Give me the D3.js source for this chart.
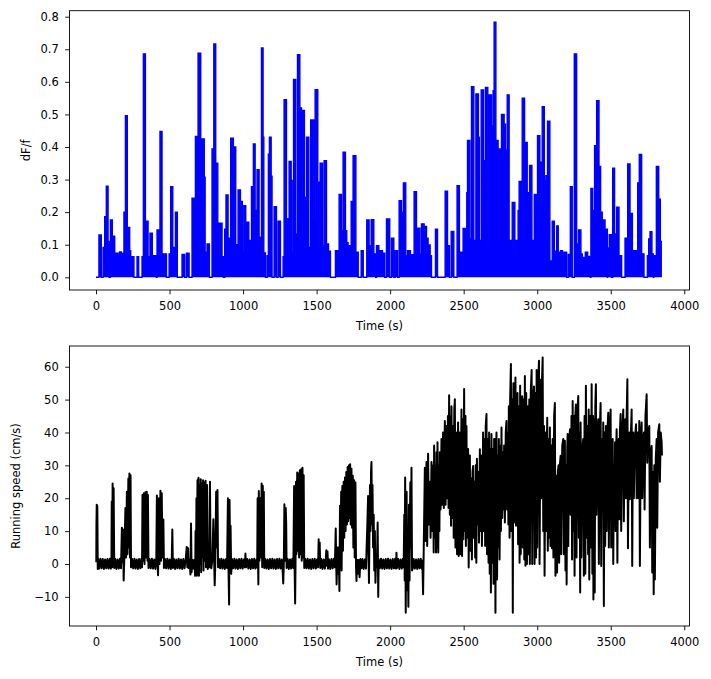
<!DOCTYPE html>
<html><head><meta charset="utf-8">
<script src="https://cdn.jsdelivr.net/npm/d3@7"></script>
<style>body{margin:0;background:#fff} svg{display:block} text{font-family:"DejaVu Sans",sans-serif}</style>
</head><body><svg id="c" width="711" height="679"></svg>
<script>
// dF/f trace: [start time (s), value] held until next start (step)
const dffSteps = [[0,0],[20,0.13],[36,0],[48,0.092],[59,0.186],[70,0.28],[82,0.11],[89,0],[98,0.176],[111,0.126],[127,0.074],[150,0.07],[160,0.078],[172,0.074],[190,0.2],[200,0.496],[213,0.153],[229,0.082],[236,0.063],[258,0],[279,0.063],[290,0],[313,0.063],[322,0.686],[336,0.172],[354,0.063],[367,0.135],[383,0.066],[410,0],[415,0.145],[429,0.07],[435,0.448],[449,0.066],[458,0.072],[479,0],[497,0.072],[508,0.278],[522,0.092],[540,0.2],[553,0],[585,0.07],[603,0],[615,0.074],[633,0],[653,0.243],[676,0.432],[694,0.688],[712,0.077],[721,0.425],[736,0.307],[742,0.077],[755,0.102],[771,0],[789,0.394],[801,0.716],[814,0.35],[828,0.166],[857,0.063],[866,0],[875,0.148],[884,0.253],[898,0.12],[916,0.427],[934,0.4],[950,0.1],[966,0.268],[982,0.233],[995,0.077],[1005,0.22],[1018,0.169],[1039,0.113],[1057,0.278],[1070,0.409],[1082,0.205],[1095,0.33],[1109,0.123],[1125,0.704],[1136,0.43],[1141,0.075],[1152,0],[1163,0.066],[1172,0.378],[1179,0.43],[1191,0.31],[1197,0],[1211,0.217],[1227,0],[1238,0.172],[1254,0],[1272,0.063],[1279,0.545],[1295,0.18],[1313,0.356],[1327,0.297],[1333,0.077],[1343,0.607],[1358,0.133],[1370,0.683],[1386,0.52],[1397,0.512],[1417,0.245],[1431,0.43],[1447,0.092],[1460,0.483],[1481,0.174],[1490,0.576],[1508,0.092],[1517,0.292],[1524,0.35],[1540,0.097],[1551,0.358],[1567,0.102],[1581,0.08],[1594,0],[1628,0.082],[1653,0.254],[1669,0.143],[1680,0.384],[1696,0.143],[1705,0.106],[1714,0.097],[1735,0.233],[1748,0.373],[1767,0.077],[1783,0],[1803,0.082],[1817,0],[1841,0.176],[1857,0.097],[1871,0.177],[1889,0.072],[1902,0],[1907,0.097],[1923,0.082],[1948,0.074],[1963,0],[1975,0.179],[1997,0],[2009,0.12],[2025,0],[2034,0.082],[2050,0],[2061,0.235],[2077,0.2],[2090,0.29],[2106,0.066],[2118,0.082],[2138,0.069],[2163,0.263],[2179,0.151],[2202,0.072],[2213,0.164],[2231,0.156],[2247,0.12],[2258,0.099],[2272,0.066],[2281,0],[2308,0.148],[2322,0],[2374,0.264],[2390,0.097],[2403,0],[2415,0.141],[2433,0],[2455,0.281],[2471,0.077],[2496,0.15],[2512,0.082],[2521,0.26],[2526,0.42],[2542,0.118],[2553,0.585],[2569,0.113],[2583,0.563],[2600,0.43],[2606,0.113],[2619,0.575],[2635,0.358],[2648,0.583],[2664,0.102],[2673,0.56],[2689,0.465],[2700,0.573],[2707,0.783],[2719,0.42],[2734,0.113],[2741,0.394],[2757,0.5],[2775,0.47],[2784,0.39],[2796,0.56],[2809,0.113],[2825,0.082],[2830,0.23],[2848,0.066],[2857,0.113],[2870,0.205],[2877,0.294],[2893,0.113],[2898,0.55],[2914,0.414],[2932,0.087],[2941,0.26],[2948,0.343],[2964,0.113],[2980,0.254],[2996,0.205],[3002,0.435],[3018,0.353],[3025,0.22],[3034,0.524],[3048,0.297],[3055,0.107],[3059,0.312],[3070,0.479],[3086,0.05],[3102,0.172],[3116,0.08],[3132,0.158],[3143,0.077],[3159,0.082],[3172,0.072],[3182,0.077],[3200,0],[3211,0.07],[3225,0.278],[3238,0],[3252,0.686],[3268,0.102],[3281,0.145],[3297,0.072],[3306,0.061],[3327,0.077],[3343,0.064],[3361,0],[3365,0.273],[3377,0.205],[3390,0.404],[3404,0.542],[3420,0.34],[3431,0.2],[3442,0.176],[3461,0.148],[3477,0],[3479,0.09],[3490,0.131],[3504,0],[3513,0.335],[3526,0.133],[3540,0.215],[3556,0.066],[3574,0],[3597,0.12],[3615,0.348],[3631,0.196],[3647,0.082],[3683,0.29],[3694,0.377],[3710,0.072],[3726,0],[3749,0.066],[3758,0.118],[3767,0.14],[3780,0.072],[3790,0],[3792,0.066],[3810,0.34],[3826,0.24],[3837,0.11],[3848,0.11]];

// Running speed trace: [time (s), cm/s]
const speedSamples = [[2,0.5],[3,12],[5,18],[9,17.5],[12,-1.5],[15,1.5],[22,-1.4],[30,1.6],[38,-1.3],[46,1.5],[54,-1.5],[62,1.4],[70,-1.3],[78,1.5],[86,-1.4],[94,1.6],[101,-1.4],
[105,1],[107,19],[110,-1],[113,24.5],[117,2],[120,23],[124,-1.2],[131,1.5],[139,-1.5],[147,1.4],[155,-1.4],[163,1.6],[170,-1.3],
[176,11],[180,0.5],[184,10.5],[188,-5],[192,1],[200,17],[204,2],[210,22],[214,3],[220,26],[223,5],[227,27.5],[231,2],[235,27],[238,-1],[245,1.5],[253,-1.3],[261,1.6],[269,-1.4],[277,1.4],[285,-1.5],[293,1.5],[301,-1.3],[309,1.6],[313,-1],
[316,21],[320,1],[325,21.5],[330,0],[336,21.8],[340,2],[345,22],[350,1],[353,21],[357,-1.2],[364,1.5],[372,-1.3],[380,1.6],[388,-1.4],[396,1.4],[404,-1.5],[410,1.2],
[414,20.8],[418,1],[422,-3.4],[428,20],[432,0],[438,22.3],[442,1],[447,21.5],[452,2],[458,13.5],[462,-1.2],[469,1.5],[477,-1.3],[485,1.6],[493,-1.4],[501,1.4],[509,-1.5],[515,1.2],
[519,10.5],[523,-1.2],[530,1.5],[538,-1.5],[546,1.4],[554,-1.3],[562,1.6],[570,-1.4],[578,1.4],[586,-1.5],[594,1.5],[602,-1.3],[610,1.5],
[617,5.2],[621,-1],[626,4.8],[630,-1.2],[637,1.3],[642,-3.2],[646,12.3],[650,-2.5],[655,1.3],[662,-1.4],[668,1.2],
[674,-3.6],[677,10],[680,-2],[683,20],[686,-3.6],[690,25.5],[693,-1],[697,26.2],[700,-3.6],[704,24],[707,0],[712,25.8],[715,-2.5],[720,24.5],[723,2],[728,25.5],[731,-2],[736,24.8],[739,1],[745,25.3],[748,-1],[755,24],[760,-1.5],[766,1.3],[771,-1],[775,25],[779,0],[784,-1.3],[791,1.2],[798,13.6],[803,2],[807,-6.5],[811,0],[817,22],[821,5],[826,22.5],[830,-1],[836,1.5],[844,-1.3],[852,1.6],[860,-1.4],[868,1.4],[876,-1.5],[884,1.5],[891,-1.2],
[897,20],[901,-2],[905,-12.3],[908,19.5],[912,2],[915,11.6],[919,-3],[925,1.5],[933,-1.3],[941,1.6],[949,-1.4],[957,1.4],[965,-1.5],[973,1.5],[981,-1.3],[989,1.6],[997,-1.4],[1005,1.4],[1012,-1],[1016,3.2],[1020,-1],[1028,1.5],[1036,-1.4],[1044,1.4],[1052,-1.5],[1060,1.5],[1068,-1.3],[1076,1.6],[1084,-1.4],[1092,1.4],[1096,-1],
[1099,20],[1102,0],[1104,-6.2],[1107,22.2],[1111,1],[1118,20],[1122,2],[1126,24.5],[1130,-1],[1134,23.8],[1138,2],[1141,22],[1144,-1.2],[1151,1.5],[1159,-1.4],[1167,1.4],[1175,-1.5],[1183,1.5],[1191,-1.3],[1199,1.6],[1207,-1.4],[1215,1.4],[1223,-1.5],[1231,1.5],[1239,-1.3],[1247,1.6],[1255,-1.4],[1263,1.4],[1268,-1],[1273,-5.9],[1277,0],[1281,18.2],[1285,1],[1290,17],[1293,12.6],[1296,-1.2],[1303,1.5],[1311,-1.5],[1319,1.4],[1327,-1.4],[1335,1.6],[1342,-1.2],
[1347,23.7],[1350,0],[1354,-12],[1357,2],[1360,25],[1363,3],[1368,27.8],[1372,4],[1377,27.5],[1381,2],[1386,28.5],[1390,3],[1395,28.8],[1399,1],[1404,29.3],[1408,2],[1412,27],[1416,-1.2],[1423,1.5],[1431,-1.3],[1439,1.6],[1447,-1.4],[1455,1.4],[1463,-1.5],[1471,1.5],[1479,-1.3],[1487,1.6],[1495,-1.4],[1503,1.4],[1510,-1],[1514,7.5],[1518,0],[1521,6.5],[1525,-1.2],[1532,1.5],[1540,-1.5],[1548,1.4],[1556,-1.4],[1562,1],[1566,4.2],[1570,-0.5],[1574,3.8],[1578,-1.4],[1585,1.4],[1593,-1.5],[1601,1.5],[1609,-1.3],[1617,1.6],[1624,-1],
[1630,10.8],[1633,1],[1636,-6.2],[1640,5],[1645,-3],[1650,5],[1655,-8.2],[1659,17.7],[1662,0],[1667,22],[1670,-2],[1675,23.7],[1679,4],[1684,25],[1688,8],[1693,26.3],[1697,10],[1702,28],[1706,12],[1711,29.5],[1715,13],[1720,30],[1724,14],[1728,30.3],[1732,12],[1737,29],[1741,11],[1746,26.8],[1750,5],[1755,25.5],[1759,2],[1764,24.8],[1768,-1],[1771,-5.2],[1775,1.3],[1782,-3],[1786,1.2],[1792,-4],[1798,1.5],[1805,-1.3],[1812,1.5],[1820,-1.5],[1828,1.4],[1836,-1.4],[1840,5],[1845,12],[1850,20.7],[1853,3],[1856,-5.8],[1859,8],[1863,24],[1866,10],[1870,28],[1873,31],[1877,12],[1880,24],[1884,5],[1888,15],[1892,-2],[1896,10],[1900,-5.7],[1904,1],[1910,-1],[1915,12.6],[1919,-10],[1922,1.5],[1930,-1.3],[1938,1.6],[1946,-1.4],[1954,1.4],[1962,-1.5],[1970,1.5],[1978,-1.3],[1986,1.6],[1994,-1.4],[2002,1.4],[2010,-1.5],[2018,1.5],[2026,-1.3],[2034,1.6],[2040,-1.4],[2043,3.4],[2047,-1.2],[2055,1.5],[2063,-1.5],[2071,1.4],[2079,-1.4],[2087,1.6],[2092,-1],
[2096,15],[2099,-5],[2102,26.3],[2106,-14.8],[2109,10],[2112,22],[2116,-8],[2120,5],[2124,-13],[2128,18],[2132,-5],[2137,24.8],[2141,5],[2145,29.3],[2149,-2],[2153,-1.3],[2160,1.5],[2168,-1.4],[2176,1.4],[2184,-1.5],[2192,1.5],[2200,-1.3],[2208,1.6],[2215,-1.4],[2219,1],
[2224,-9.2],[2230,10],[2236,29.3],[2241,7],[2247,31],[2252,5.5],[2258,33.5],[2263,12],[2270,25],[2275,8],[2281,31],[2286,10],[2292,30],[2296,3.5],[2299,36],[2304,8],[2309,30],[2312,3.5],[2315,34],[2319,5],[2322,37],[2327,3.5],[2332,30],[2335,10],[2338,34],[2343,16.6],[2349,38],[2354,18],[2360,40],[2365,17],[2372,43.5],[2377,18],[2383,42],[2388,20],[2393,45],[2397,17],[2401,51.3],[2406,15],[2411,45],[2414,11.6],[2417,48],[2422,14],[2428,42],[2432,8],[2436,47],[2440,50.1],[2444,5],[2450,40],[2455,3],[2462,43],[2466,2.4],[2472,40],[2477,3],[2485,47],[2489,2.4],[2494,44],[2498,7.5],[2503,53.2],[2507,10],[2512,45],[2515,5.5],[2519,42],[2523,8],[2527,30],[2530,35],[2534,-1.1],[2538,28],[2542,33],[2546,4],[2552,26],[2556,1.4],[2560,28],[2564,29.8],[2568,8],[2574,25],[2578,2],[2582,30],[2586,0.4],[2590,32],[2594,12],[2600,28],[2604,6.5],[2610,34.9],[2614,10],[2620,33],[2624,5.5],[2632,40],[2636,10],[2642,38],[2646,5.5],[2650,42],[2655,45.6],[2659,3],[2665,38],[2669,0.4],[2673,40],[2677,-3],[2681,35],[2685,-8.7],[2689,39.5],[2693,0.4],[2700,35],[2703,-6],[2707,38],[2712,38],[2716,-14.8],[2719,30],[2723,40],[2727,-4.7],[2732,33],[2736,5],[2739,38],[2744,1.4],[2750,36],[2753,10],[2757,41.5],[2762,14],[2768,34],[2772,16.6],[2775,36],[2780,12.6],[2786,40],[2791,43.5],[2795,16.6],[2800,40],[2804,12],[2807,48],[2812,8],[2816,50],[2821,60.8],[2825,10],[2830,50],[2834,-14.8],[2838,55],[2843,12.6],[2848,50],[2852,56.7],[2856,11.6],[2862,48],[2866,52],[2870,6],[2876,48],[2880,0.4],[2884,54.2],[2888,3],[2893,45],[2898,51],[2902,5],[2908,50],[2912,1.4],[2916,57.2],[2920,-0.5],[2925,52],[2930,0],[2936,48],[2940,3],[2946,50],[2950,0],[2956,52],[2962,59],[2966,0],[2972,50],[2978,54],[2982,0],[2988,52],[2992,2],[2996,59],[3000,5],[3006,55],[3012,61.8],[3016,0],[3023,56],[3027,20],[3032,55],[3037,62.8],[3041,10],[3046,42],[3050,-3.6],[3056,40],[3060,10],[3068,44.5],[3072,4],[3078,38],[3082,8],[3086,41.5],[3090,5.5],[3096,36],[3100,4.8],[3105,38],[3110,2],[3115,45],[3120,49],[3124,-3.6],[3128,25],[3132,26.8],[3135,-2.6],[3140,28],[3145,30],[3149,0.4],[3154,30],[3159,32.9],[3163,3],[3170,36],[3177,38],[3181,3],[3188,37.5],[3192,-2],[3196,30],[3200,-6.2],[3204,35],[3207,39.5],[3211,5.5],[3218,38],[3223,41],[3227,15],[3233,45],[3237,1.4],[3241,49.6],[3245,10],[3250,45],[3254,-3.6],[3258,44],[3263,48.5],[3267,2],[3273,46],[3279,51.1],[3283,8],[3288,40],[3292,-8.7],[3295,43],[3300,2],[3306,35],[3313,38],[3317,-3.6],[3322,45],[3327,-3],[3331,54.2],[3336,8],[3342,42],[3346,3],[3350,47],[3354,-4.7],[3360,45],[3365,5],[3370,54.7],[3375,-3],[3380,45],[3382,-10.8],[3386,44],[3391,-8.7],[3395,48],[3399,54.7],[3403,15],[3409,40],[3415,44],[3419,0],[3425,40],[3431,49],[3435,-0.6],[3440,38],[3445,20],[3449,43],[3453,-12.8],[3458,40],[3462,5.5],[3467,42],[3472,10],[3477,40],[3483,46],[3487,5],[3493,40],[3499,47],[3503,5],[3508,35],[3513,38],[3517,0],[3522,30],[3525,15],[3529,37],[3533,10],[3537,35],[3540,41],[3545,0.4],[3550,35],[3554,38],[3558,13.6],[3562,40],[3567,45.6],[3571,10],[3578,40],[3585,47],[3589,13],[3594,38],[3599,44],[3603,20],[3608,45],[3613,56.2],[3617,4.8],[3622,35],[3626,40],[3630,19.7],[3636,38],[3642,47],[3646,-0.6],[3650,35],[3653,40],[3657,20],[3664,38],[3672,42.5],[3676,20],[3682,40],[3688,20],[3694,43.5],[3698,-0.6],[3704,38],[3710,43],[3714,20],[3720,38],[3726,40],[3730,16.6],[3736,45],[3744,51.6],[3748,30.8],[3754,40],[3762,42],[3766,5],[3772,33],[3778,35.9],[3782,-2.6],[3788,28],[3792,-9.2],[3796,30],[3800,-4.7],[3806,32],[3812,38],[3816,11],[3822,40],[3830,42.5],[3834,25],[3840,40],[3846,37],[3848,33]];

const timeTicks = [0,500,1000,1500,2000,2500,3000,3500,4000];
const dffTicks = [0,0.1,0.2,0.3,0.4,0.5,0.6,0.7,0.8];
const speedTicks = [-10,0,10,20,30,40,50,60];

const svg = d3.select("#c");
const L = 69.5, R = 689.5;
const x = d3.scaleLinear().domain([-180.2, 4035.4]).range([L, R]);

function panel(id, top, bottom, yDomain, yTicks, yFmt, yLabel, yLabelX) {
  const y = d3.scaleLinear().domain(yDomain).range([bottom, top]);
  const g = svg.append("g");
  g.append("clipPath").attr("id", id).append("rect")
    .attr("x", L).attr("y", top).attr("width", R - L).attr("height", bottom - top);
  const xa = g.append("g").attr("transform", `translate(0,${bottom})`)
    .call(d3.axisBottom(x).tickValues(timeTicks).tickSize(4.3).tickPadding(7.2).tickFormat(d3.format("d")));
  const ya = g.append("g").attr("transform", `translate(${L},0)`)
    .call(d3.axisLeft(y).tickValues(yTicks).tickSize(4.3).tickPadding(6.5).tickFormat(yFmt));
  [xa, ya].forEach(a => {
    a.select(".domain").remove();
    a.selectAll("line").attr("stroke", "#000").attr("stroke-width", 0.9);
    a.selectAll("text").attr("fill", "#000").style("font-size", "11.5px").style("font-family", "'DejaVu Sans', sans-serif");
  });
  g.append("text").attr("x", (L + R) / 2).attr("y", bottom + 40).attr("text-anchor", "middle")
    .style("font-size", "11.5px").attr("fill", "#000").text("Time (s)");
  g.append("text").attr("transform", `translate(${yLabelX},${(top + bottom) / 2}) rotate(-90)`)
    .attr("text-anchor", "middle").style("font-size", "11.5px").attr("fill", "#000").text(yLabel);
  const plot = g.append("g").attr("clip-path", `url(#${id})`);
  return {g, y, plot, top, bottom};
}

// Top panel: dF/f
const p1 = panel("clipTop", 10.7, 290, [-0.039, 0.8184], dffTicks, d3.format(".1f"), "dF/f", 30);
p1.plot.append("path").datum(dffSteps)
  .attr("d", d3.area().curve(d3.curveStepAfter).x(d => x(d[0])).y0(p1.y(0)).y1(d => p1.y(d[1])))
  .attr("fill", "#0000ff");
p1.plot.append("path").datum(dffSteps)
  .attr("d", d3.line().curve(d3.curveStepAfter).x(d => x(d[0])).y(d => p1.y(d[1])))
  .attr("fill", "none").attr("stroke", "#0000ff").attr("stroke-width", 1.4);
p1.g.append("rect").attr("x", L).attr("y", 10.7).attr("width", R - L).attr("height", 290 - 10.7)
  .attr("fill", "none").attr("stroke", "#000").attr("stroke-width", 0.9);

// Bottom panel: running speed
const minusFmt = d => (d < 0 ? "\u2212" + Math.abs(d) : String(d));
const p2 = panel("clipBot", 346, 626, [-18.86, 66.3], speedTicks, minusFmt, "Running speed (cm/s)", 20);
p2.plot.append("path").datum(speedSamples)
  .attr("d", d3.line().x(d => x(d[0])).y(d => p2.y(d[1])))
  .attr("fill", "none").attr("stroke", "#000").attr("stroke-width", 2).attr("stroke-linejoin", "round");
p2.g.append("rect").attr("x", L).attr("y", 346).attr("width", R - L).attr("height", 626 - 346)
  .attr("fill", "none").attr("stroke", "#000").attr("stroke-width", 0.9);
</script></body></html>
